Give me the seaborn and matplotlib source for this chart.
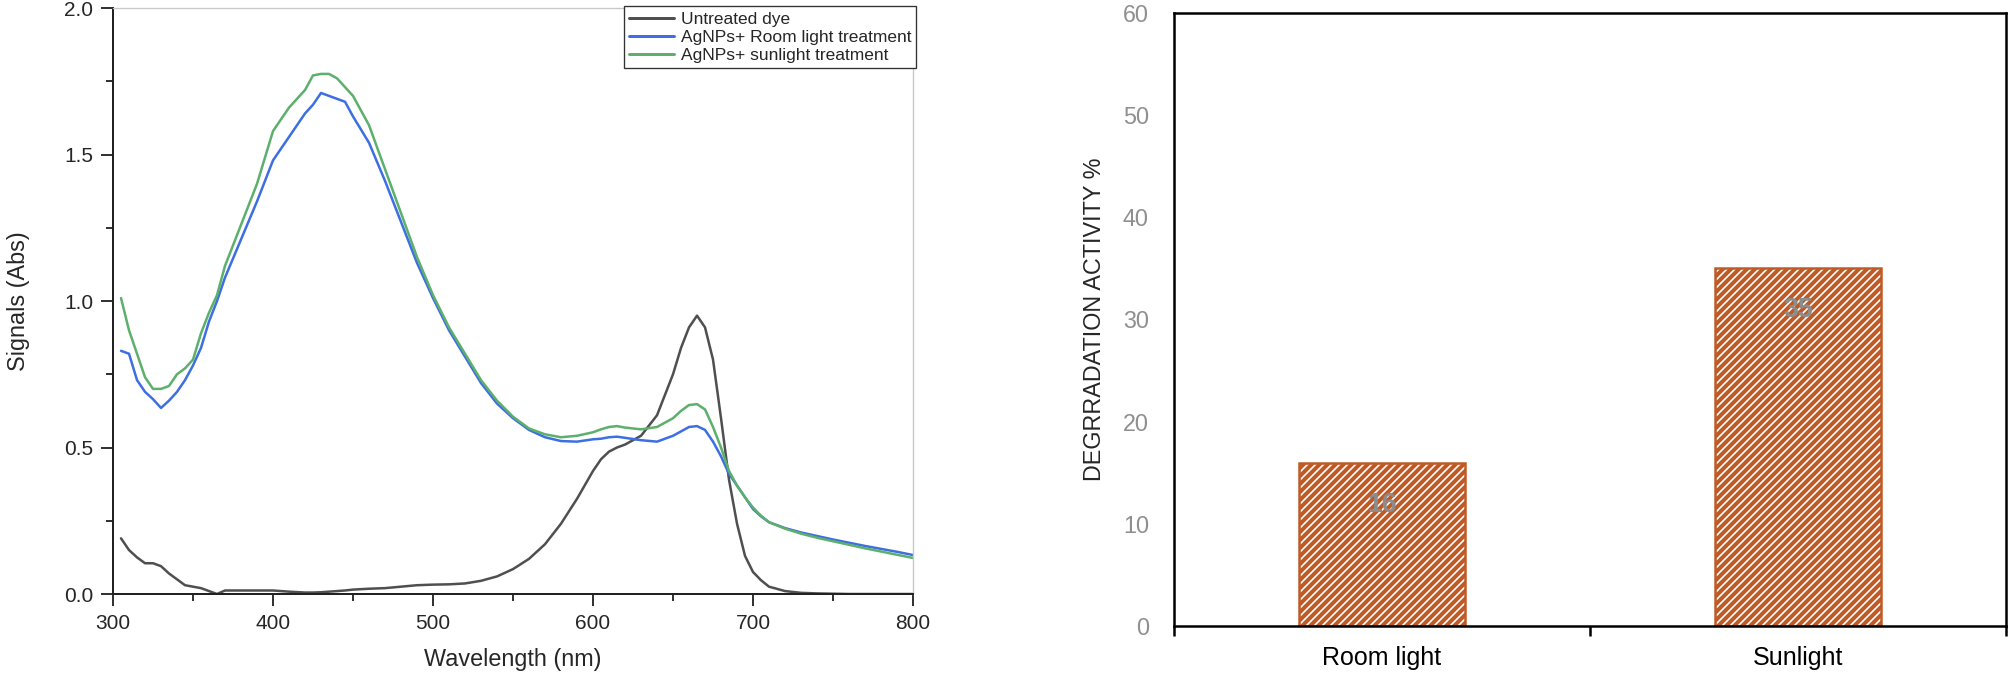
import matplotlib
matplotlib.use("Agg")
import matplotlib.pyplot as plt
from matplotlib.ticker import MultipleLocator, FormatStrFormatter
import pandas as pd
import seaborn as sns

# UV-vis spectra
wavelength = [305, 310, 315, 320, 325, 330, 335, 340, 345, 350, 355, 360, 365, 370,
              380, 390, 400, 410, 420,
              425, 430, 435, 440, 445, 450,
              460, 470, 480, 490, 500, 510, 520, 530, 540, 550, 560, 570, 580, 590, 600,
              605, 610, 615, 620,
              630, 640, 650,
              655, 660, 665, 670, 675, 680, 685, 690, 695, 700, 705, 710,
              720, 730, 740, 750, 760, 770, 780, 790, 800]

untreated_dye = [0.19, 0.15, 0.125, 0.105, 0.105, 0.095, 0.07, 0.05, 0.03, 0.025, 0.02, 0.01, 0.0, 0.012,
                 0.012, 0.012, 0.012, 0.008, 0.005,
                 0.005, 0.006, 0.008, 0.01, 0.012, 0.015,
                 0.018, 0.02, 0.025, 0.03, 0.032, 0.033, 0.036, 0.045, 0.06, 0.085, 0.12, 0.17, 0.24, 0.325, 0.42,
                 0.46, 0.486, 0.50, 0.51,
                 0.54, 0.61, 0.75,
                 0.84, 0.91, 0.95, 0.91, 0.80, 0.60, 0.39, 0.24, 0.13, 0.075, 0.047, 0.025,
                 0.01, 0.004, 0.002, 0.001, 0.0, 0.0, 0.0, 0.0, 0.0]

room_light_treatment = [0.83, 0.82, 0.73, 0.69, 0.665, 0.635, 0.66, 0.69, 0.73, 0.78, 0.84, 0.93, 1.00, 1.08,
                        1.21, 1.34, 1.48, 1.56, 1.64,
                        1.67, 1.71, 1.70, 1.69, 1.68, 1.63,
                        1.54, 1.41, 1.27, 1.13, 1.01, 0.90, 0.81, 0.72, 0.65, 0.60, 0.56, 0.535, 0.522, 0.52, 0.528,
                        0.53, 0.535, 0.537, 0.533,
                        0.525, 0.52, 0.54,
                        0.555, 0.57, 0.573, 0.56, 0.52, 0.47, 0.41, 0.37, 0.33, 0.29, 0.265, 0.245,
                        0.225, 0.21, 0.198, 0.186, 0.175, 0.164, 0.154, 0.144, 0.133]

sunlight_treatment = [1.01, 0.90, 0.82, 0.74, 0.70, 0.70, 0.71, 0.75, 0.77, 0.80, 0.89, 0.96, 1.02, 1.12,
                      1.26, 1.40, 1.58, 1.66, 1.72,
                      1.77, 1.775, 1.775, 1.76, 1.73, 1.70,
                      1.60, 1.45, 1.30, 1.15, 1.02, 0.91, 0.82, 0.73, 0.66, 0.605, 0.565, 0.545, 0.535, 0.54, 0.552,
                      0.562, 0.57, 0.573, 0.568,
                      0.562, 0.57, 0.60,
                      0.625, 0.645, 0.648, 0.63, 0.57, 0.50, 0.42, 0.37, 0.33, 0.295, 0.267, 0.245,
                      0.223, 0.206, 0.192, 0.18, 0.168, 0.156, 0.145, 0.134, 0.123]

series_labels = ["Untreated dye", "AgNPs+ Room light treatment", "AgNPs+ sunlight treatment"]
series_colors = ["#4f4f4f", "#3d6fe2", "#5cb06c"]

# Degradation bar chart
conditions = ["Room light", "Sunlight"]
degradation = [16, 35]
bar_color = "#bf5a24"


def spectra_frame():
    df = pd.DataFrame({
        "Wavelength": wavelength,
        series_labels[0]: untreated_dye,
        series_labels[1]: room_light_treatment,
        series_labels[2]: sunlight_treatment,
    })
    return df.melt(id_vars="Wavelength", var_name="Sample", value_name="Signal")


sns.set_style("ticks")
plt.rcParams["font.family"] = ["Liberation Sans", "DejaVu Sans"]
plt.rcParams["hatch.linewidth"] = 2.4

fig = plt.figure(figsize=(2008 / 120, 678 / 120), dpi=120)
ax1 = fig.add_axes([0.05628, 0.12389, 0.39841, 0.86431])
ax2 = fig.add_axes([0.58466, 0.07670, 0.41434, 0.90413])

# Left: spectra
sns.lineplot(
    data=spectra_frame(), x="Wavelength", y="Signal", hue="Sample",
    palette=dict(zip(series_labels, series_colors)), linewidth=1.5, ax=ax1,
)
ax1.set_xlim(300, 800)
ax1.set_ylim(0, 2.0)
ax1.xaxis.set_major_locator(MultipleLocator(100))
ax1.xaxis.set_minor_locator(MultipleLocator(50))
ax1.yaxis.set_major_locator(MultipleLocator(0.5))
ax1.yaxis.set_minor_locator(MultipleLocator(0.25))
ax1.yaxis.set_major_formatter(FormatStrFormatter("%.1f"))
ax1.tick_params(which="major", length=7, width=1.1, labelsize=12.5, color="#222222")
ax1.tick_params(which="minor", length=4, width=1.1, color="#222222")
ax1.tick_params(axis="x", which="major", pad=5)
ax1.tick_params(axis="y", which="major", pad=5)
for side in ["left", "bottom"]:
    ax1.spines[side].set_color("#222222")
    ax1.spines[side].set_linewidth(1.2)
for side in ["top", "right"]:
    ax1.spines[side].set_color("#c8c8c8")
    ax1.spines[side].set_linewidth(0.8)
ax1.set_xlabel("Wavelength (nm)", fontsize=14, labelpad=9)
ax1.set_ylabel("Signals (Abs)", fontsize=14, labelpad=20)

sns.move_legend(
    ax1, "upper right", bbox_to_anchor=(1.004, 1.003), title=None,
    frameon=True, fancybox=False, edgecolor="#333333", framealpha=1,
    borderaxespad=0, fontsize=10.4, handlelength=2.6, handletextpad=0.35,
    labelspacing=0.18, borderpad=0.3,
)
leg = ax1.get_legend()
leg.get_frame().set_linewidth(0.8)
for h in leg.legend_handles:
    h.set_linewidth(1.8)

# Right: degradation bars
sns.barplot(x=conditions, y=degradation, ax=ax2, color="white", saturation=1,
            width=0.4, edgecolor=bar_color, linewidth=1.5)
for patch in ax2.patches:
    patch.set_facecolor("white")
    patch.set_edgecolor(bar_color)
    patch.set_hatch("/////")
ax2.bar_label(ax2.containers[0], fmt="%g", padding=-33, color="#8c8c8c",
              fontsize=16, fontweight="bold")

ax2.set_xlim(-0.5, 1.5)
ax2.set_ylim(0, 60)
ax2.set_yticks(range(0, 61, 10))
ax2.set_xticks([-0.5, 0.5, 1.5], minor=True)
ax2.tick_params(axis="x", which="major", length=0, pad=12, labelsize=15,
                labelcolor="black")
ax2.tick_params(axis="x", which="minor", length=6, width=1.5, color="black", direction="out")
ax2.tick_params(axis="y", length=0, pad=15, labelsize=14, labelcolor="#8f8f8f")
for side in ["left", "bottom", "top", "right"]:
    ax2.spines[side].set_color("black")
    ax2.spines[side].set_linewidth(1.5)
ax2.set_xlabel("")
ax2.set_ylabel("DEGRRADATION ACTIVITY %", fontsize=14, labelpad=10)

fig.savefig("out.png", dpi=120)
plt.close(fig)
